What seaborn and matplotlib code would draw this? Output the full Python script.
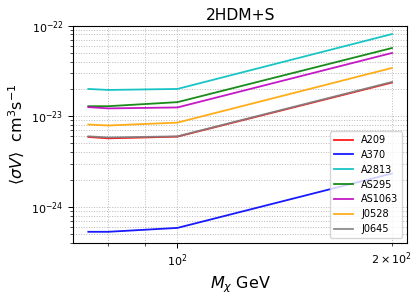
import matplotlib
matplotlib.use("Agg")
import matplotlib.pyplot as plt
import seaborn as sns
import pandas as pd

masses = [75, 80, 100, 200]
A209 = [5.9e-24, 5.7e-24, 5.95e-24, 2.35e-23]
A370 = [5.3e-25, 5.3e-25, 5.85e-25, 2.33e-24]
A2813 = [2.0e-23, 1.95e-23, 2.0e-23, 8.07e-23]
AS295 = [1.29e-23, 1.29e-23, 1.43e-23, 5.66e-23]
AS1063 = [1.26e-23, 1.22e-23, 1.25e-23, 4.99e-23]
J0528 = [8.1e-24, 7.9e-24, 8.5e-24, 3.41e-23]
J0645 = [6.0e-24, 5.83e-24, 6.0e-24, 2.39e-23]

series = {"A209": A209, "A370": A370, "A2813": A2813, "AS295": AS295,
          "AS1063": AS1063, "J0528": J0528, "J0645": J0645}
colors = ["r", "b", "c", "g", "m", "orange", "gray"]

rows = []
for name, vals in series.items():
    for m, v in zip(masses, vals):
        rows.append({"mass": m, "sv": v, "cluster": name})
df = pd.DataFrame(rows)

fig = plt.figure(figsize=(4.18, 2.98), dpi=100)
ax = fig.add_axes([0.175, 0.185, 0.799, 0.729])
sns.lineplot(data=df, x="mass", y="sv", hue="cluster", palette=colors,
             hue_order=list(series.keys()), ax=ax, linewidth=1.3, alpha=0.9)
ax.set_xscale("log")
ax.set_yscale("log")
ax.set_ylim(4e-25, 1e-22)
ax.grid(True, which="both", linestyle=":", color="#b8b8b8", linewidth=0.7)
ax.tick_params(which="both", labelsize=8)
ax.tick_params(which="major", length=3.5, width=0.7)
ax.tick_params(which="minor", length=2, width=0.5)
for s in ax.spines.values():
    s.set_linewidth(0.8)
ax.set_title("2HDM+S", fontsize=11.2, pad=4)
ax.set_xlabel(r"$M_\chi$ GeV", fontsize=11.5)
ax.set_ylabel(r"$\langle\sigma V\rangle$  cm$^3$s$^{-1}$", fontsize=11.5)
leg = ax.legend(loc="lower right", fontsize=7)
leg.set_title(None)
fig.savefig("out.png", dpi=100)
